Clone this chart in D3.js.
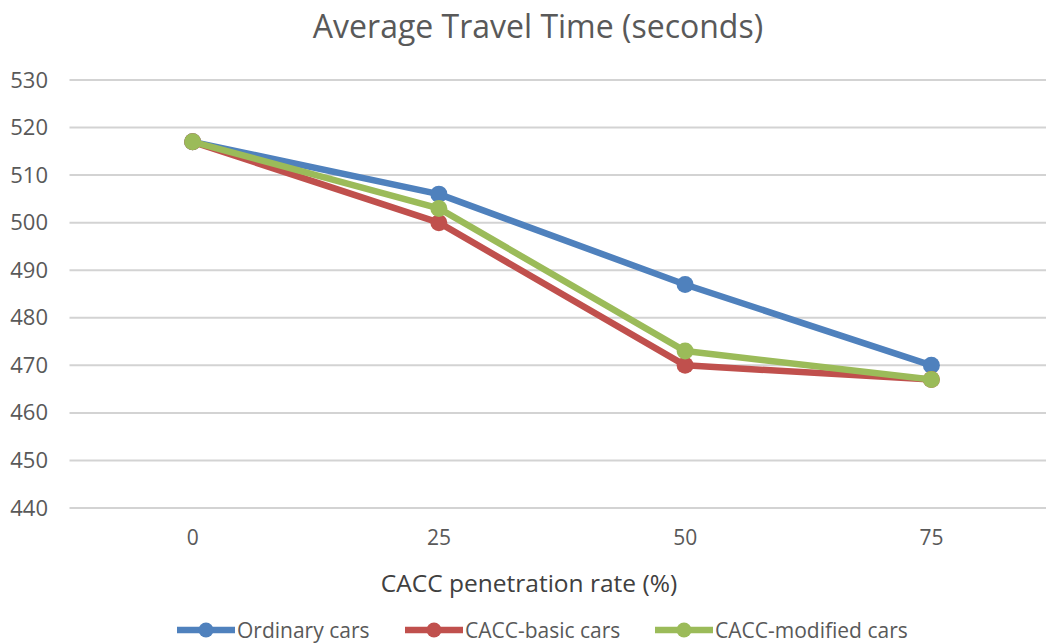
<!DOCTYPE html>
<html>
<head>
<meta charset="utf-8">
<script src="https://cdn.jsdelivr.net/npm/d3@7"></script>
<style>
  html, body { margin: 0; padding: 0; background: #fff; }
  svg { display: block; font-family: "Open Sans", "Noto Sans", sans-serif; }
</style>
</head>
<body>
<svg id="chart" width="1046" height="644"></svg>
<script>
// Penetration rate categories (%)
const categories = ["0", "25", "50", "75"];
// Average travel time (s) per vehicle type
const ordinaryCars = [517, 506, 487, 470];
const caccBasicCars = [517, 500, 470, 467];
const caccModifiedCars = [517, 503, 473, 467];
const yTicks = [440, 450, 460, 470, 480, 490, 500, 510, 520, 530];

const seriesNames = ["Ordinary cars", "CACC-basic cars", "CACC-modified cars"];
const seriesValues = [ordinaryCars, caccBasicCars, caccModifiedCars];
const seriesColors = ["#4F81BD", "#C0504D", "#9BBB59"];

const svg = d3.select("#chart");
const W = 1046, H = 644;
const plotLeft = 69.5, plotRight = 1054.5, plotTop = 80, plotBottom = 508;

const x = d3.scaleBand().domain(categories).range([plotLeft, plotRight]);
const y = d3.scaleLinear().domain([440, 530]).range([plotBottom, plotTop]);

// Title
svg.append("text")
  .attr("x", 538).attr("y", 38)
  .attr("text-anchor", "middle")
  .attr("font-size", 32)
  .attr("fill", "#595959")
  .text("Average Travel Time (seconds)");

// Horizontal gridlines
svg.append("g").selectAll("line").data(yTicks).join("line")
  .attr("x1", plotLeft).attr("x2", W)
  .attr("y1", d => y(d)).attr("y2", d => y(d))
  .attr("stroke", "#d3d3d3").attr("stroke-width", 2);

// Y axis labels
const yAxis = d3.axisLeft(y).tickValues(yTicks).tickSize(0).tickPadding(0);
const gy = svg.append("g").attr("transform", "translate(48,0)").call(yAxis);
gy.select(".domain").remove();
gy.selectAll("text")
  .attr("font-size", 22)
  .attr("font-family", "'Open Sans', 'Noto Sans', sans-serif")
  .attr("fill", "#595959");

// X axis labels
const xAxis = d3.axisBottom(x).tickSize(0).tickPadding(0);
const gx = svg.append("g").attr("transform", `translate(0,${plotBottom + 22})`).call(xAxis);
gx.select(".domain").remove();
gx.selectAll("text")
  .attr("font-size", 21)
  .attr("font-family", "'Open Sans', 'Noto Sans', sans-serif")
  .attr("fill", "#595959");

// X axis title
svg.append("text")
  .attr("x", 529).attr("y", 592)
  .attr("text-anchor", "middle")
  .attr("font-size", 24.5)
  .attr("fill", "#404040")
  .text("CACC penetration rate (%)");

// Series lines and markers
const line = d3.line()
  .x((d, i) => x(categories[i]) + x.bandwidth() / 2)
  .y(d => y(d));

seriesValues.forEach((vals, s) => {
  const g = svg.append("g");
  g.append("path")
    .datum(vals)
    .attr("d", line)
    .attr("fill", "none")
    .attr("stroke", seriesColors[s])
    .attr("stroke-width", 6.5)
    .attr("stroke-linejoin", "round");
  g.selectAll("circle").data(vals).join("circle")
    .attr("cx", (d, i) => x(categories[i]) + x.bandwidth() / 2)
    .attr("cy", d => y(d))
    .attr("r", 8.5)
    .attr("fill", seriesColors[s]);
});

// Legend
const legendX = [177, 405, 655];
const legendY = 630;
seriesNames.forEach((name, s) => {
  const g = svg.append("g").attr("transform", `translate(${legendX[s]},${legendY})`);
  g.append("line")
    .attr("x1", 0).attr("x2", 58).attr("y1", 0).attr("y2", 0)
    .attr("stroke", seriesColors[s]).attr("stroke-width", 6.5);
  g.append("circle").attr("cx", 29).attr("cy", 0).attr("r", 7.5).attr("fill", seriesColors[s]);
  g.append("text")
    .attr("x", 60).attr("y", 8)
    .attr("font-size", 21)
    .attr("fill", "#595959")
    .text(name);
});
</script>
</body>
</html>
